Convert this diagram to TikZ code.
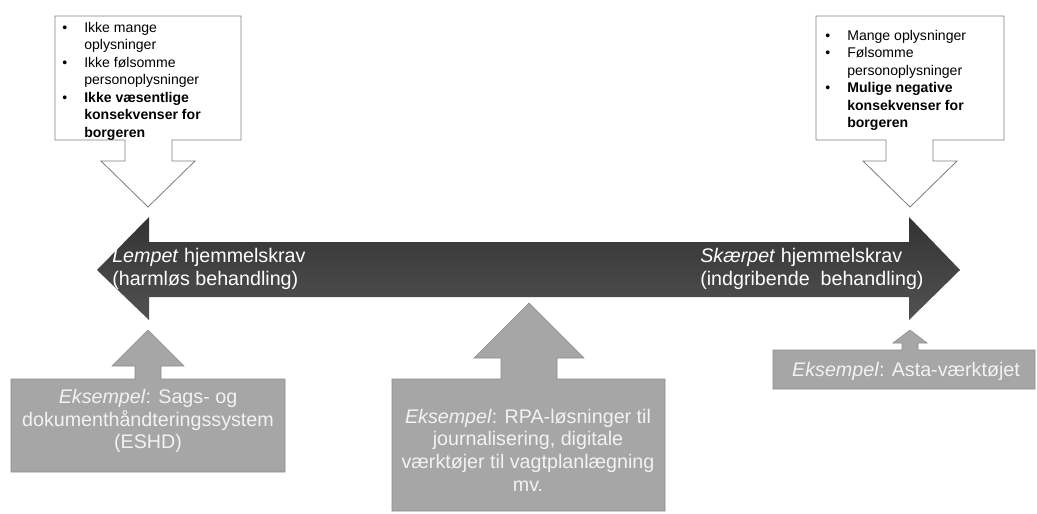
\documentclass[tikz,border=0pt]{standalone}
\usepackage{fontspec}
\setmainfont{Liberation Sans}
\usetikzlibrary{positioning}

\newcommand{\bl}{\makebox[0.55cm][l]{\textbullet}}
\newcommand{\ind}{\hspace*{0.55cm}}

\begin{document}
\begin{tikzpicture}[
    x=0.025cm, y=-0.025cm,
    callout/.style={draw=black!50, fill=white, line width=0.6pt},
    example/.style={draw=black!45, fill=black!35, line width=0.4pt},
    bigarrow/.style={top color=black!80, bottom color=black!68, draw=none},
    pointtext/.style={inner sep=0pt, align=left, font=\fontsize{10}{12.4}\selectfont},
    arrowtext/.style={inner sep=0pt, align=left, text=white, font=\fontsize{14}{16.1}\selectfont},
    exampletext/.style={inner sep=0pt, align=center, text=black!5, font=\fontsize{14}{16.1}\selectfont}
]
\useasboundingbox (0,0) rectangle (1037,513);

% dobbeltpil
\path[bigarrow] (97,270) -- (149,217) -- (149,242) -- (909,242) -- (909,217) -- (960,270)
    -- (909,320) -- (909,297) -- (149,297) -- (149,320) -- cycle;

% callouts foroven
\path[callout] (55,16) -- (241,16) -- (241,140) -- (172,140) -- (172,161) -- (195,161)
    -- (148,207) -- (101,161) -- (125,161) -- (125,140) -- (55,140) -- cycle;
\path[callout] (816,16) -- (1004,16) -- (1004,140) -- (933,140) -- (933,161) -- (957,161)
    -- (910,207) -- (863,161) -- (886,161) -- (886,140) -- (816,140) -- cycle;

% callouts forneden
\path[example] (11,379) -- (135,379) -- (135,366) -- (112,366) -- (148,330) -- (184,366)
    -- (161,366) -- (161,379) -- (285,379) -- (285,472) -- (11,472) -- cycle;
\path[example] (392,379) -- (501,379) -- (501,358) -- (474,358) -- (529,303) -- (584,358)
    -- (557,358) -- (557,379) -- (665,379) -- (665,511) -- (392,511) -- cycle;
\path[example] (773,350) -- (902,350) -- (902,343) -- (893,343) -- (910,330) -- (927,343)
    -- (918,343) -- (918,350) -- (1035,350) -- (1035,389) -- (773,389) -- cycle;

\node[pointtext, anchor=north west] (low) at (62,22)
    {\bl Ikke mange\\\ind oplysninger\\\bl Ikke følsomme\\\ind personoplysninger\\
     \bl\textbf{Ikke væsentlige}\\\ind\textbf{konsekvenser for}\\\ind\textbf{borgeren}};
\node[pointtext, anchor=north west] (high) at (825,30)
    {\bl Mange oplysninger\\\bl Følsomme\\\ind personoplysninger\\
     \bl\textbf{Mulige negative}\\\ind\textbf{konsekvenser for}\\\ind\textbf{borgeren}};

\node[arrowtext, anchor=west] (lax) at (112,269)
    {\textit{Lempet} hjemmelskrav\\(harmløs behandling)};
\node[arrowtext, anchor=west] (strict) at (700,269)
    {\textit{Skærpet} hjemmelskrav\\(indgribende\ \ behandling)};

\node[exampletext] (exA) at (148,421)
    {\textit{Eksempel}: Sags- og\\dokumenthåndteringssystem\\(ESHD)};
\node[exampletext] (exB) at (528,450)
    {\textit{Eksempel}: RPA-løsninger til\\journalisering, digitale\\værktøjer til vagtplanlægning\\mv.};
\node[exampletext] (exC) at (906,371) {\textit{Eksempel}: Asta-værktøjet};
\end{tikzpicture}
\end{document}
